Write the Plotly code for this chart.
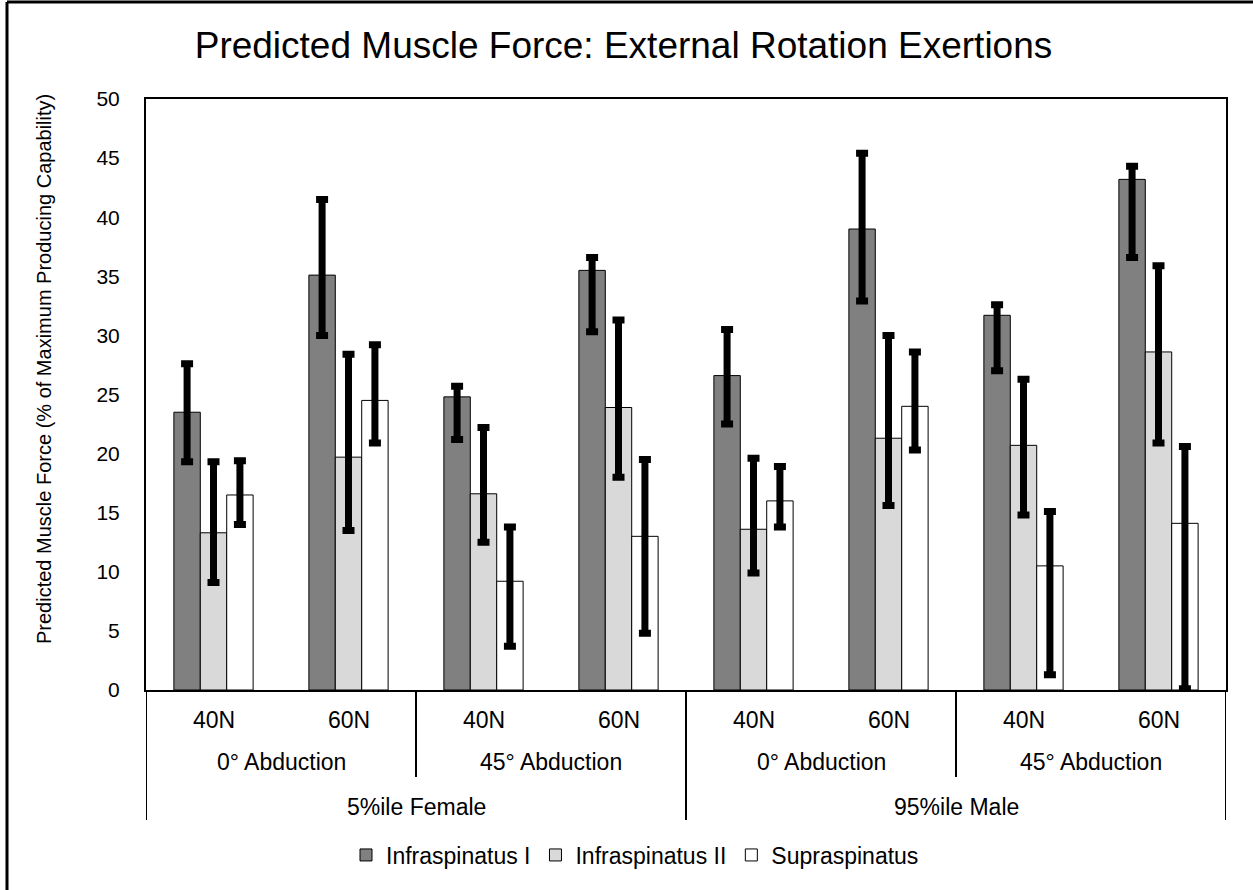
import plotly.graph_objects as go

# ---- data ----
force_levels = ["40N", "60N", "40N", "60N", "40N", "60N", "40N", "60N"]
abduction = ["0° Abduction", "45° Abduction", "0° Abduction", "45° Abduction"]
subjects = ["5%ile Female", "95%ile Male"]
series_names = ["Infraspinatus I", "Infraspinatus II", "Supraspinatus"]
series_colors = ["#808080", "#d9d9d9", "#ffffff"]

infra1 = [23.5, 35.1, 24.8, 35.5, 26.6, 39.0, 31.7, 43.2]
infra1_hi = [27.6, 41.5, 25.7, 36.6, 30.5, 45.4, 32.6, 44.3]
infra1_lo = [19.3, 30.0, 21.2, 30.3, 22.5, 32.9, 27.0, 36.6]

infra2 = [13.3, 19.7, 16.6, 23.9, 13.6, 21.3, 20.7, 28.6]
infra2_hi = [19.3, 28.4, 22.2, 31.3, 19.6, 30.0, 26.3, 35.9]
infra2_lo = [9.1, 13.5, 12.5, 18.0, 9.9, 15.6, 14.8, 20.9]

supra = [16.5, 24.5, 9.2, 13.0, 16.0, 24.0, 10.5, 14.1]
supra_hi = [19.4, 29.2, 13.8, 19.5, 18.9, 28.6, 15.1, 20.6]
supra_lo = [14.0, 20.9, 3.7, 4.8, 13.8, 20.3, 1.3, 0.1]

y_ticks = [0, 5, 10, 15, 20, 25, 30, 35, 40, 45, 50]

FONT = "Liberation Sans, Arial, sans-serif"
LAB = 23

series = [(infra1, infra1_hi, infra1_lo), (infra2, infra2_hi, infra2_lo), (supra, supra_hi, supra_lo)]
xpos = list(range(len(force_levels)))

fig = go.Figure()
for name, color, (vals, hi, lo) in zip(series_names, series_colors, series):
    fig.add_trace(go.Bar(
        x=xpos, y=vals, name=name,
        marker=dict(color=color, line=dict(color="black", width=1)),
        error_y=dict(type="data", symmetric=False,
                     array=[h - v for h, v in zip(hi, vals)],
                     arrayminus=[v - l for v, l in zip(vals, lo)],
                     color="black", thickness=7, width=6),
    ))

n = len(force_levels)
fig.update_layout(
    width=1253, height=890,
    margin=dict(l=146, r=27, t=99, b=200, autoexpand=False),
    paper_bgcolor="white", plot_bgcolor="white",
    barmode="group", bargap=0.413, bargroupgap=0,
    font=dict(family=FONT, size=LAB, color="black"),
    title=dict(text="Predicted Muscle Force: External Rotation Exertions",
               font=dict(family=FONT, size=37, color="black"),
               xref="container", x=0.4976, xanchor="center",
               yref="container", y=1 - 45 / 890, yanchor="middle"),
    showlegend=True,
    legend=dict(orientation="h", xref="paper", x=(635 - 146) / 1080, xanchor="center",
                yref="paper", y=(690 - 855) / 591, yanchor="middle",
                font=dict(family=FONT, size=LAB, color="black"),
                itemwidth=30, traceorder="normal", bgcolor="rgba(0,0,0,0)"),
    xaxis=dict(range=[-0.5, n - 0.5], showticklabels=False, ticks="",
               showgrid=False, zeroline=False,
               showline=True, linecolor="black", linewidth=2, mirror=True),
    yaxis=dict(range=[0, 50], tickvals=y_ticks, ticks="", showgrid=False,
               zeroline=False, ticklabelstandoff=20,
               tickfont=dict(family=FONT, size=21, color="black"),
               showline=True, linecolor="black", linewidth=2, mirror=True),
)

# y-axis title
fig.add_annotation(text="Predicted Muscle Force (% of Maximum Producing Capability)",
                   xref="paper", yref="paper", x=(44 - 146) / 1080, y=(690 - 369) / 591,
                   xanchor="center", yanchor="middle", textangle=-90, showarrow=False,
                   font=dict(family=FONT, size=20, color="black"))

# level 1 labels
for i, lab in enumerate(force_levels):
    fig.add_annotation(text=lab, x=i, xref="x", yref="paper", y=0, yshift=-30,
                       yanchor="middle", showarrow=False, font=dict(size=LAB))
# level 2 labels
for j, lab in enumerate(abduction):
    fig.add_annotation(text=lab, x=2 * j + 0.5, xref="x", yref="paper", y=0, yshift=-72,
                       yanchor="middle", showarrow=False, font=dict(size=LAB))
# level 3 labels
for k, lab in enumerate(subjects):
    fig.add_annotation(text=lab, x=4 * k + 1.5, xref="x", yref="paper", y=0, yshift=-117,
                       yanchor="middle", showarrow=False, font=dict(size=LAB))

# divider lines
for xb in range(-1, n, 2):
    b = xb + 0.5
    full = (int(round(b + 0.5)) % 4 == 0)
    fig.add_shape(type="line", xref="x", x0=b, x1=b, yref="paper", ysizemode="pixel",
                  yanchor=0, y0=0, y1=-130 if full else -87,
                  line=dict(color="black", width=2))

# outer chart frame (left and top edges visible)
fig.add_shape(type="line", xref="paper", xsizemode="pixel", xanchor=0, x0=-139, x1=-139,
              yref="paper", y0=-0.5, y1=(690 - 2) / 591, line=dict(color="black", width=3))
fig.add_shape(type="line", xref="paper", xsizemode="pixel", xanchor=0, x0=-139, x1=1200,
              yref="paper", ysizemode="pixel", yanchor=1, y0=97, y1=97,
              line=dict(color="black", width=3))

fig.write_html("out.html")
